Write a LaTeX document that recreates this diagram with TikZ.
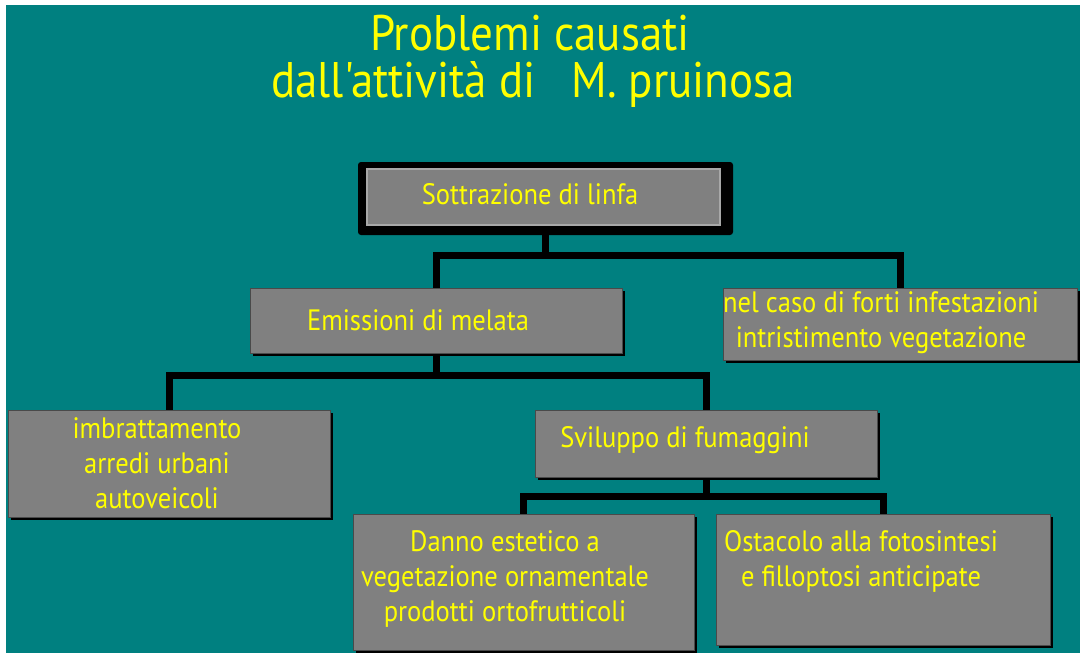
\documentclass[tikz,border=0pt]{standalone}
\usepackage{fontspec}
\newfontfamily\comic[FakeStretch=0.9]{PT Sans}
\usetikzlibrary{shadows}
\definecolor{bgteal}{HTML}{008080}
\definecolor{boxgray}{HTML}{808080}
\definecolor{txtyellow}{HTML}{FFFF00}
\definecolor{edgegray}{HTML}{4A4A4A}
\definecolor{lightedge}{HTML}{A8A8A8}
\pgfdeclarelayer{back}
\pgfdeclarelayer{lines}
\pgfsetlayers{back,lines,main}
\begin{document}
\begin{tikzpicture}[x=1pt,y=-1pt,
  box/.style={rectangle, fill=boxgray, draw=edgegray, line width=1pt, inner sep=0pt,
    drop shadow={shadow xshift=3pt, shadow yshift=-3pt, fill=black, opacity=1}},
  frame/.style={rectangle, fill=black, inner sep=0pt, rounded corners=3pt},
  innerbox/.style={rectangle, fill=boxgray, draw=lightedge, line width=2pt, inner sep=0pt},
  lbl/.style={text=txtyellow, inner sep=0pt, align=center,
    font=\comic\fontsize{29.5}{35}\selectfont},
  ttl/.style={text=txtyellow, inner sep=0pt, align=center,
    font=\comic\fontsize{50}{50}\selectfont},
  conn/.style={draw=black, line width=7pt, line join=miter}]
\useasboundingbox (0,0) rectangle (1080,653);
\begin{pgfonlayer}{back}
  \fill[white] (0,0) rectangle (1080,653);
  \fill[bgteal] (6,5) rectangle (1080,653);
\end{pgfonlayer}

% title
\node[ttl, anchor=base] (t1) at (530,50) {Problemi causati};
\node[ttl, anchor=base] (t2) at (533,97) {dall'attività di \ \ M. pruinosa};

% boxes
\node[frame, minimum width=375pt, minimum height=73pt] (sott) at (545.5,198.5) {};
\node[innerbox, minimum width=353pt, minimum height=56pt] (sottin) at (543.5,197) {};
\node[box, minimum width=372pt, minimum height=65pt] (emis) at (436,320.5) {};
\node[box, minimum width=354pt, minimum height=72pt] (nel) at (900,324) {};
\node[box, minimum width=322pt, minimum height=107pt] (imbr) at (169,463.5) {};
\node[box, minimum width=342pt, minimum height=67pt] (svil) at (706,443.5) {};
\node[box, minimum width=341pt, minimum height=136pt] (danno) at (523.5,582) {};
\node[box, minimum width=334pt, minimum height=131pt] (ost) at (883,579.5) {};

% texts
\node[lbl] (sottt) at (530,194) {Sottrazione di linfa};
\node[lbl] (emist) at (418,320) {Emissioni di melata};
\node[lbl] (nelt) at (881,323) {nel caso di forti infestazioni\\intristimento vegetazione};
\node[lbl] (imbrt) at (157,463) {imbrattamento\\arredi urbani\\autoveicoli};
\node[lbl] (svilt) at (685,440) {Sviluppo di fumaggini};
\node[lbl] (dannot) at (505,579) {Danno estetico a\\vegetazione ornamentale\\prodotti ortofrutticoli};
\node[lbl] (ostt) at (861,561) {Ostacolo alla fotosintesi\\e filloptosi anticipate};

% connectors
\begin{pgfonlayer}{lines}
  \coordinate (j1) at (sott.south |- 0,255);
  \draw[conn] (sott.south) -- (j1);
  \draw[conn] (emis.north) |- (j1) -| (nel.north);
  \coordinate (j2) at (emis.south |- 0,375);
  \draw[conn] (emis.south) -- (j2);
  \draw[conn] (imbr.north) |- (j2) -| (svil.north);
  \coordinate (j3) at (svil.south |- 0,496);
  \draw[conn] (svil.south) -- (j3);
  \draw[conn] (danno.north) |- (j3) -| (ost.north);
\end{pgfonlayer}
\end{tikzpicture}
\end{document}
